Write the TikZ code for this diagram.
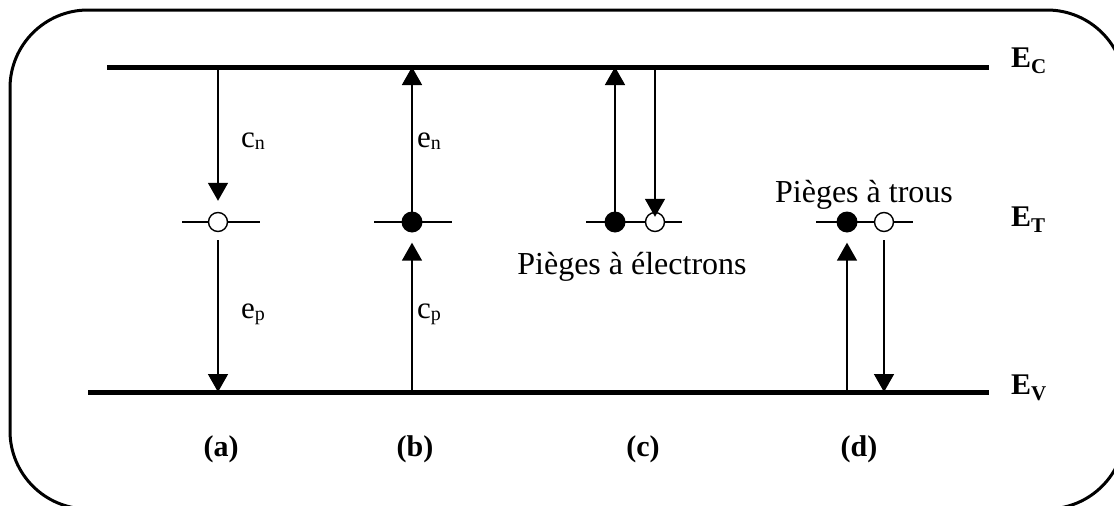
\documentclass[tikz,border=0pt]{standalone}
\usepackage{fontspec}
\setmainfont{Liberation Serif}
\usetikzlibrary{arrows.meta}
\newcommand{\lowsub}[1]{\raisebox{-0.08em}{\fontsize{20}{20}\selectfont #1}}
\newcommand{\boldsub}[1]{\raisebox{-0.2em}{\fontsize{21}{21}\selectfont\bfseries #1}}

\begin{document}
\begin{tikzpicture}[x=1pt, y=-1pt, >={Triangle[length=18pt,width=20pt]},
  band/.style={line width=5pt},
  level/.style={line width=1.6pt},
  jump/.style={line width=1.6pt, ->},
  filled/.style={circle, fill, inner sep=0pt, minimum size=21pt},
  hollow/.style={circle, draw, fill=white, line width=1.4pt, inner sep=0pt, minimum size=19pt},
  lbl/.style={inner sep=0pt, font=\fontsize{31}{36}\selectfont},
  tag/.style={inner sep=0pt, font=\fontsize{30}{36}\selectfont\bfseries}]
  \clip (0,0) rectangle (1114,506);
  \draw[line width=3pt, rounded corners=78pt] (10,10) rectangle (1125,509);
  % bands
  \coordinate (EcL) at (107,67);
  \coordinate (EcR) at (989,67);
  \coordinate (EvL) at (88,392);
  \coordinate (EvR) at (989,392);
  \draw[band] (EcL) -- (EcR);
  \draw[band] (EvL) -- (EvR);
  \node[tag, anchor=base west] (Ec) at (1011,67) {E\boldsub{C}};
  \node[tag, anchor=base west] (Et) at (1011,226) {E\boldsub{T}};
  \node[tag, anchor=base west] (Ev) at (1011,394) {E\boldsub{V}};
  % (a)
  \draw[level] (182,222) -- (260,222);
  \node[hollow] (a1) at (218,222) {};
  \draw[jump, shorten >=11pt] (a1 |- EcL) -- (a1);
  \draw[jump, shorten <=8pt] (a1) -- (a1 |- EvL);
  \node[lbl, anchor=base west] (cn) at (241,147) {c\lowsub{n}};
  \node[lbl, anchor=base west] (ep) at (241,318) {e\lowsub{p}};
  % (b)
  \draw[level] (374,222) -- (452,222);
  \node[filled] (b1) at (412,222) {};
  \draw[jump] (b1.center) -- (b1 |- EcL);
  \draw[jump, shorten >=10pt] (b1 |- EvL) -- (b1);
  \node[lbl, anchor=base west] (en) at (417,147) {e\lowsub{n}};
  \node[lbl, anchor=base west] (cp) at (417,318) {c\lowsub{p}};
  % (c)
  \draw[level] (586,222) -- (682,222);
  \node[filled] (c1) at (615,222) {};
  \node[hollow] (c2) at (655,222) {};
  \draw[jump] (c1.center) -- (c1 |- EcL);
  \draw[jump, shorten >=-5pt] (c2 |- EcL) -- (c2.north);
  \node[lbl, anchor=base, font=\fontsize{32}{36}\selectfont] (ce) at (632,274) {Pièges à électrons};
  % (d)
  \draw[level] (816,222) -- (913,222);
  \node[filled] (d1) at (847,222) {};
  \node[hollow] (d2) at (884,222) {};
  \draw[jump, shorten >=10pt] (d1 |- EvL) -- (d1);
  \draw[jump, shorten <=8pt] (d2) -- (d2 |- EvL);
  \node[lbl, anchor=base, font=\fontsize{32}{36}\selectfont] (ht) at (864,202) {Pièges à trous};
  % cases
  \node[tag, anchor=base] (la) at (221,456) {(a)};
  \node[tag, anchor=base] (lb) at (415,456) {(b)};
  \node[tag, anchor=base] (lc) at (643,456) {(c)};
  \node[tag, anchor=base] (ld) at (859,456) {(d)};
\end{tikzpicture}
\end{document}
